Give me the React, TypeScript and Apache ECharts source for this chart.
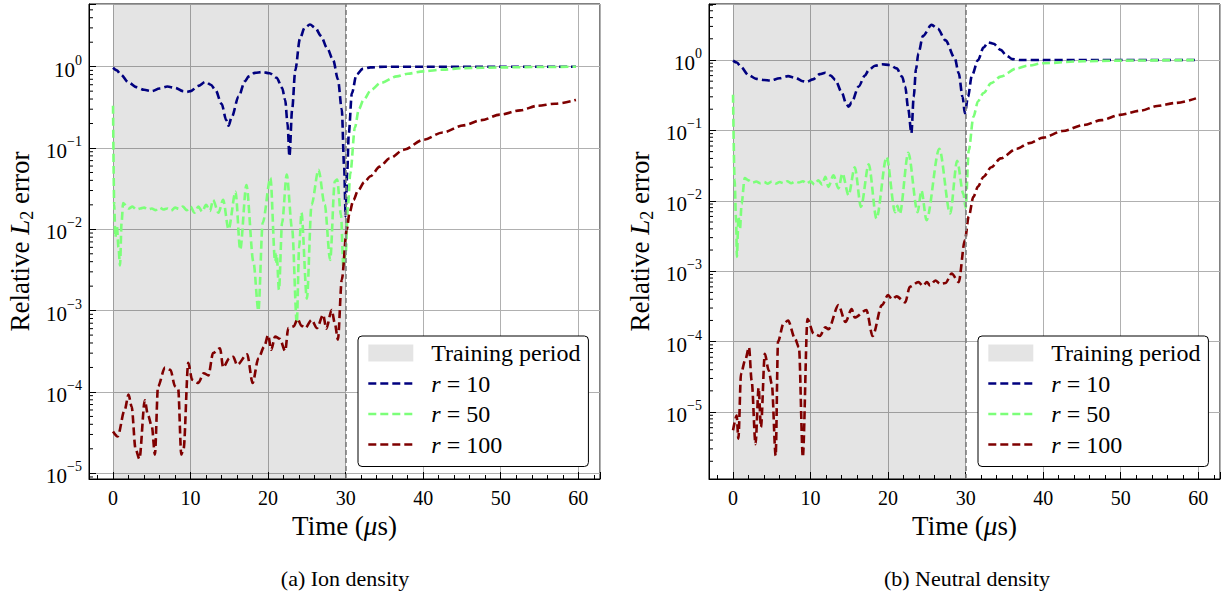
import React, { useEffect, useRef } from "react";
import * as echarts from "echarts";

const FONT = '"Liberation Serif", "Times New Roman", serif';
const C_R10 = "#00007f";
const C_R50 = "#7cff79";
const C_R100 = "#7f0000";
const SHADE = "rgba(0,0,0,0.105)";

const X_MIN = -3.1;
const X_MAX = 62.8;
const TRAIN_START = 0;
const TRAIN_END = 30;
const ION_Y_RANGE = [8.5e-6, 5.9];
const NEU_Y_RANGE = [1.12e-6, 6.24];

const SERIES_NAMES = ["r = 10", "r = 50", "r = 100"];
const TRAIN_NAME = "Training period";
const CAPTIONS = ["(a) Ion density", "(b) Neutral density"];

// ---- (a) Ion density ----
const ionR10: number[][] = [
  [0, 0.97], [0.5, 0.9], [1, 0.8], [2, 0.64], [3, 0.56], [4, 0.52], [5, 0.5], [6, 0.54], [7, 0.57],
  [8, 0.55], [9, 0.5], [9.5, 0.49], [10, 0.5], [11, 0.58], [11.9, 0.65], [12.6, 0.6], [13.2, 0.52],
  [14, 0.35], [14.6, 0.22], [14.9, 0.188], [15.3, 0.24], [16.2, 0.43], [17, 0.66], [17.5, 0.76],
  [18.3, 0.84], [19.2, 0.86], [20.2, 0.83], [21.1, 0.73], [21.8, 0.55], [22.2, 0.39], [22.5, 0.2],
  [22.75, 0.079], [23.1, 0.3], [23.5, 0.9], [24.1, 2.2], [24.7, 3.0], [25.4, 3.3], [26.1, 3.0],
  [26.8, 2.4], [27.6, 1.7], [28.4, 1.2], [29.0, 0.7], [29.5, 0.3], [29.8, 0.06], [30.0, 0.0145],
  [30.2, 0.05], [30.4, 0.15], [30.8, 0.47], [31.4, 0.8], [32.2, 0.94], [33.2, 0.98], [35, 1.0],
  [40, 1.0], [50, 1.0], [59.7, 1.0],
];
const ionR50: number[][] = [
  [0, 0.33], [0.15, 0.02], [0.3, 0.008], [0.5, 0.011], [0.7, 0.006], [0.9, 0.0036], [1.1, 0.012],
  [1.3, 0.021], [2, 0.018], [2.5, 0.019], [3, 0.0175], [3.5, 0.018], [4, 0.0185], [4.5, 0.0175],
  [5, 0.018], [5.5, 0.0172], [6, 0.0185], [6.5, 0.0175], [7, 0.018], [7.5, 0.017], [8, 0.0185],
  [8.5, 0.0178], [9, 0.019], [9.5, 0.0172], [10, 0.019], [10.5, 0.016], [11, 0.019], [11.5, 0.0165],
  [12, 0.02], [12.5, 0.0168], [12.9, 0.023], [13.6, 0.016], [14.2, 0.023], [14.9, 0.01], [15.8, 0.029],
  [16.4, 0.0056], [17.2, 0.035], [18.1, 0.004], [18.75, 0.001], [19.3, 0.012], [20.3, 0.043],
  [20.9, 0.004], [21.1, 0.005], [21.4, 0.0018], [21.8, 0.012], [22.4, 0.047], [23.1, 0.01],
  [23.7, 0.0007], [24.0, 0.006], [24.3, 0.016], [25.0, 0.0014], [25.6, 0.02], [26.5, 0.054],
  [27.3, 0.02], [28.0, 0.0042], [28.6, 0.039], [28.9, 0.041], [29.4, 0.015], [29.7, 0.0035],
  [30.0, 0.005], [30.3, 0.02], [30.6, 0.049], [31.2, 0.18], [31.7, 0.3], [32.3, 0.39], [33.3, 0.52],
  [34.5, 0.63], [36.6, 0.76], [38, 0.82], [40, 0.875], [42.5, 0.92], [45.2, 0.96], [50, 0.98],
  [55, 0.99], [59.7, 1.0],
];
const ionR100: number[][] = [
  [0, 3.27e-5], [0.6, 2.84e-5], [1.5, 6.0e-5], [2.0, 9.3e-5], [2.4, 6.6e-5], [2.9, 2.0e-5],
  [3.4, 1.5e-5], [4.1, 7.9e-5], [4.5, 5.2e-5], [5.0, 3.8e-5], [5.4, 1.7e-5], [5.8, 1.17e-4],
  [6.7, 2.0e-4], [7.4, 1.87e-4], [8.0, 1.17e-4], [8.4, 1.1e-4], [8.8, 1.7e-5], [9.1, 2.0e-5],
  [9.7, 2.28e-4], [10.2, 1.41e-4], [11.0, 1.29e-4], [11.7, 1.7e-4], [12.3, 1.6e-4], [12.9, 3.0e-4],
  [13.8, 3.45e-4], [14.2, 2.0e-4], [15.0, 2.6e-4], [15.5, 2.7e-4], [16.0, 2.15e-4], [17.3, 2.9e-4],
  [18.0, 1.29e-4], [18.75, 2.6e-4], [19.5, 3.6e-4], [20.0, 5.0e-4], [20.4, 3.3e-4], [20.9, 4.8e-4],
  [21.5, 4.5e-4], [22.2, 3.2e-4], [22.6, 6.1e-4], [23.3, 6.4e-4], [23.8, 7.9e-4], [24.3, 6.5e-4],
  [24.8, 6.1e-4], [25.6, 7.7e-4], [26.3, 6.1e-4], [27.1, 8.9e-4], [27.5, 6.0e-4], [28.2, 1.02e-3],
  [28.6, 7.0e-4], [29.0, 4.4e-4], [29.5, 2.4e-3], [30.15, 1.0e-2], [30.5, 1.6e-2], [31.0, 2.3e-2],
  [31.6, 3.0e-2], [32.4, 3.8e-2], [33.2, 4.5e-2], [34.4, 5.9e-2], [35.7, 7.5e-2], [37.5, 9.5e-2],
  [40, 0.126], [42.5, 0.155], [45.2, 0.19], [47.5, 0.22], [49.9, 0.257], [52.5, 0.29],
  [54.7, 0.33], [57, 0.35], [59.7, 0.39],
];

// ---- (b) Neutral density ----
const neuR10: number[][] = [
  [0, 0.98], [0.5, 0.92], [1, 0.8], [2, 0.61], [3, 0.54], [4, 0.52], [4.8, 0.51], [6, 0.55],
  [7.1, 0.59], [8, 0.56], [9, 0.5], [9.5, 0.49], [10.3, 0.53], [11.2, 0.63], [11.9, 0.66],
  [12.6, 0.6], [13.2, 0.52], [14, 0.35], [14.6, 0.24], [14.9, 0.217], [15.3, 0.25], [16.2, 0.42],
  [17, 0.6], [17.5, 0.72], [18.3, 0.83], [19.2, 0.87], [20.2, 0.85], [21.1, 0.76], [21.8, 0.58],
  [22.2, 0.42], [22.6, 0.2], [23.0, 0.091], [23.3, 0.3], [23.6, 0.75], [23.9, 1.24], [24.5, 2.2],
  [25.6, 3.15], [26.4, 2.8], [27.4, 1.9], [28.6, 1.06], [29.1, 0.65], [29.6, 0.3], [29.9, 0.175],
  [30.3, 0.3], [30.8, 0.6], [31.6, 1.0], [32.3, 1.5], [32.9, 1.78], [33.6, 1.7], [34.5, 1.39],
  [35.3, 1.15], [36, 1.03], [37, 1.0], [40, 1.0], [50, 1.0], [59.7, 1.0],
];
const neuR50: number[][] = [
  [0, 0.32], [0.2, 0.02], [0.4, 0.005], [0.5, 0.0016], [0.7, 0.006], [0.9, 0.004], [1.1, 0.009],
  [1.5, 0.021], [2, 0.0195], [2.5, 0.018], [3, 0.0188], [3.5, 0.0178], [4, 0.0185], [4.5, 0.0175],
  [5, 0.0188], [5.5, 0.0176], [6, 0.0185], [6.5, 0.0178], [7, 0.019], [7.5, 0.0178], [8, 0.0188],
  [8.5, 0.0182], [9, 0.019], [9.5, 0.0175], [10, 0.019], [10.5, 0.017], [11, 0.0195], [11.5, 0.017],
  [11.9, 0.022], [12.3, 0.0158], [12.95, 0.023], [13.6, 0.015], [14.1, 0.0245], [14.9, 0.012],
  [15.7, 0.03], [16.5, 0.0082], [17.5, 0.033], [18.5, 0.0056], [19.8, 0.042], [20.9, 0.0069],
  [21.2, 0.0085], [21.5, 0.0065], [22.6, 0.048], [23.8, 0.0069], [24.3, 0.014], [24.95, 0.0053],
  [26.6, 0.055], [28.0, 0.0066], [28.9, 0.037], [29.7, 0.0126], [30.0, 0.008], [30.4, 0.052],
  [31.0, 0.156], [31.6, 0.26], [32.3, 0.34], [33.3, 0.47], [34.5, 0.58], [36.6, 0.76], [38, 0.83],
  [40, 0.9], [45.2, 0.96], [50, 0.98], [59.7, 1.0],
];
const neuR100: number[][] = [
  [0, 5.5e-6], [0.47, 8.9e-6], [0.69, 4.2e-6], [1.03, 3.5e-5], [1.55, 5.4e-5], [2.06, 8.3e-5],
  [2.4, 2.8e-5], [2.9, 3.5e-6], [3.3, 2.2e-5], [3.6, 6.1e-6], [4.1, 6.7e-5], [4.6, 3.9e-5],
  [5.0, 2.5e-5], [5.5, 2.4e-6], [5.8, 1.0e-4], [6.5, 1.8e-4], [7.1, 2.0e-4], [8.0, 1.1e-4],
  [8.5, 8.3e-5], [9.0, 2.3e-6], [9.6, 2.1e-4], [10.4, 1.3e-4], [11.2, 1.2e-4], [11.9, 1.6e-4],
  [12.3, 1.5e-4], [13.6, 3.3e-4], [14.5, 1.9e-4], [15.3, 2.9e-4], [15.7, 2.2e-4], [17.2, 2.8e-4],
  [18.0, 1.2e-4], [19.2, 3.3e-4], [20.0, 4.6e-4], [20.5, 4.0e-4], [21.1, 4.4e-4], [22.2, 3.6e-4],
  [22.8, 6.0e-4], [23.9, 7.0e-4], [24.5, 6.2e-4], [25.0, 7.0e-4], [25.4, 6.3e-4], [26.1, 7.4e-4],
  [26.7, 6.6e-4], [27.4, 6.8e-4], [28.2, 9.3e-4], [29.1, 7.0e-4], [29.9, 2.75e-3], [30.4, 6.0e-3],
  [31.0, 1.14e-2], [31.6, 1.6e-2], [32.3, 2.2e-2], [33.3, 3.0e-2], [34.5, 4.0e-2], [36.6, 5.5e-2],
  [38.2, 6.6e-2], [40, 7.9e-2], [42.5, 0.098], [45.2, 0.119], [47.5, 0.14], [49.9, 0.166],
  [52.5, 0.19], [54.7, 0.222], [57, 0.245], [59.7, 0.285],
];

const PANELS = [
  { yRange: ION_Y_RANGE, r10: ionR10, r50: ionR50, r100: ionR100 },
  { yRange: NEU_Y_RANGE, r10: neuR10, r50: neuR50, r100: neuR100 },
];

const GRID_LEFTS = [89, 709];
const GRID_TOP = 4;
const GRID_W = 511;
const GRID_H = 475;
const CAPTION_X = [345, 967];

function minorLogTicks(lo: number, hi: number): number[] {
  const out: number[] = [];
  for (let n = -8; n <= 2; n++) {
    for (let k = 2; k <= 9; k++) {
      const v = k * Math.pow(10, n);
      if (v > lo && v < hi) out.push(v);
    }
  }
  return out;
}

function logLabel(v: number): string {
  const l = Math.log10(v);
  const n = Math.round(l);
  if (Math.abs(l - n) > 0.01) return "";
  const exp = n === 0 ? "0" : n < 0 ? "\u2212" + String(-n) : String(n);
  return "{b|10}{s|" + exp + "}";
}

function buildOption() {
  const grid: any[] = [];
  const xAxis: any[] = [];
  const yAxis: any[] = [];
  const series: any[] = [];
  const legend: any[] = [];
  const graphic: any[] = [];

  PANELS.forEach((p, i) => {
    const left = GRID_LEFTS[i];
    grid.push({
      left,
      top: GRID_TOP,
      width: GRID_W,
      height: GRID_H,
      containLabel: false,
      outerBoundsMode: "none",
      show: true,
      borderColor: "#000",
      borderWidth: 1,
      backgroundColor: "transparent",
    });
    xAxis.push({
      type: "value",
      gridIndex: i,
      min: X_MIN,
      max: X_MAX,
      axisLine: { show: true, onZero: false, lineStyle: { color: "#000", width: 1 } },
      axisTick: { show: true, inside: true, length: 7, lineStyle: { color: "#000", width: 1 } },
      minorTick: { show: true, splitNumber: 5, length: 4, lineStyle: { color: "#000", width: 1 } },
      splitLine: { show: true, lineStyle: { color: "#b0b0b0", width: 1 } },
      minorSplitLine: { show: false },
      axisLabel: {
        formatter: (v: number) => (Math.abs(v - Math.round(v / 10) * 10) < 1e-6 ? String(Math.round(v)) : ""),
        color: "#000",
        fontFamily: FONT,
        fontSize: 20,
        margin: 9,
      },
      name: "Time ({i|\u03bc}s)",
      nameLocation: "middle",
      nameGap: 26,
      nameTextStyle: {
        color: "#000",
        fontFamily: FONT,
        fontSize: 27,
        rich: { i: { fontStyle: "italic", fontFamily: FONT, fontSize: 27, color: "#000" } },
      },
    });
    yAxis.push({
      type: "log",
      logBase: 10,
      gridIndex: i,
      min: p.yRange[0],
      max: p.yRange[1],
      axisLine: { show: true, onZero: false, lineStyle: { color: "#000", width: 1 } },
      axisTick: { show: true, inside: true, length: 7, lineStyle: { color: "#000", width: 1 } },
      minorTick: { show: false },
      splitLine: { show: true, lineStyle: { color: "#b0b0b0", width: 1 } },
      axisLabel: {
        formatter: logLabel,
        margin: 7,
        color: "#000",
        rich: {
          b: { fontFamily: FONT, fontSize: 21, color: "#000", lineHeight: 27, verticalAlign: "bottom" },
          s: { fontFamily: FONT, fontSize: 14, color: "#000", lineHeight: 14, verticalAlign: "top" },
        },
      },
      name: "Relative {i|L}{sub|2} error",
      nameLocation: "middle",
      nameGap: 53,
      nameRotate: 90,
      nameTextStyle: {
        color: "#000",
        fontFamily: FONT,
        fontSize: 27,
        lineHeight: 32,
        rich: {
          i: { fontStyle: "italic", fontFamily: FONT, fontSize: 27, color: "#000", lineHeight: 32 },
          sub: { fontFamily: FONT, fontSize: 18, color: "#000", lineHeight: 18, verticalAlign: "bottom" },
        },
      },
    });

    series.push({
      name: TRAIN_NAME,
      type: "line",
      xAxisIndex: i,
      yAxisIndex: i,
      data: [],
      itemStyle: { color: SHADE },
      lineStyle: { color: SHADE },
      z: 1,
      markArea: {
        silent: true,
        itemStyle: { color: SHADE },
        data: [[{ xAxis: TRAIN_START }, { xAxis: TRAIN_END }]],
      },
      markLine: {
        silent: true,
        symbol: ["none", "none"],
        label: { show: false },
        lineStyle: { color: "#7f7f7f", type: [5, 3], width: 1.6 },
        data: [{ xAxis: TRAIN_END }],
      },
    });

    const lines = [
      { name: SERIES_NAMES[0], data: p.r10, color: C_R10 },
      { name: SERIES_NAMES[1], data: p.r50, color: C_R50 },
      { name: SERIES_NAMES[2], data: p.r100, color: C_R100 },
    ];
    lines.forEach((l) => {
      series.push({
        name: l.name,
        type: "line",
        xAxisIndex: i,
        yAxisIndex: i,
        data: l.data,
        showSymbol: false,
        symbol: "none",
        smooth: 0.3,
        smoothMonotone: "x",
        itemStyle: { color: l.color },
        lineStyle: { color: l.color, width: 2.6, type: [8, 4] },
        z: 3,
      });
    });

    series.push({
      type: "custom",
      xAxisIndex: i,
      yAxisIndex: i,
      silent: true,
      clip: false,
      z: 5,
      data: minorLogTicks(p.yRange[0], p.yRange[1]).map((v) => [X_MIN, v]),
      renderItem: (_params: any, api: any) => {
        const pt = api.coord([api.value(0), api.value(1)]);
        return {
          type: "line",
          shape: { x1: pt[0], y1: pt[1], x2: pt[0] + 4, y2: pt[1] },
          style: { stroke: "#000", lineWidth: 1 },
        };
      },
    });

    legend.push({
      show: true,
      orient: "vertical",
      left: left + 269,
      top: 336,
      itemWidth: 45,
      itemHeight: 17,
      itemGap: 6.5,
      padding: [5, 8, 10, 9],
      backgroundColor: "#fff",
      borderColor: "#000",
      borderWidth: 1,
      borderRadius: 4,
      selectedMode: false,
      lineStyle: { width: 2.6 },
      data: [
        { name: TRAIN_NAME, icon: "rect" },
        { name: SERIES_NAMES[0], itemStyle: { opacity: 0 } },
        { name: SERIES_NAMES[1], itemStyle: { opacity: 0 } },
        { name: SERIES_NAMES[2], itemStyle: { opacity: 0 } },
      ],
      formatter: (name: string) => (name.startsWith("r =") ? "{i|r}" + name.slice(1) : name),
      textStyle: {
        color: "#000",
        fontFamily: FONT,
        fontSize: 24,
        padding: [0, 0, 0, 13],
        rich: { i: { fontStyle: "italic", fontFamily: FONT, fontSize: 24, color: "#000" } },
      },
    });

    graphic.push({
      type: "text",
      x: CAPTION_X[i],
      y: 578,
      style: {
        text: CAPTIONS[i],
        fill: "#000",
        font: '22px "Liberation Serif", serif',
        align: "center",
        verticalAlign: "middle",
        textAlign: "center",
        textVerticalAlign: "middle",
      },
    });
  });

  return {
    animation: false,
    backgroundColor: "#fff",
    grid,
    xAxis,
    yAxis,
    series,
    legend,
    graphic,
  };
}

export default function App() {
  const ref = useRef<HTMLDivElement>(null);
  useEffect(() => {
    if (!ref.current) return;
    const chart = echarts.init(ref.current, undefined, { renderer: "svg" });
    chart.setOption(buildOption() as any);
    return () => chart.dispose();
  }, []);
  return (
    <div
      ref={ref}
      style={{ position: "absolute", left: 0, top: 0, width: 1225, height: 595, background: "#fff" }}
    />
  );
}
